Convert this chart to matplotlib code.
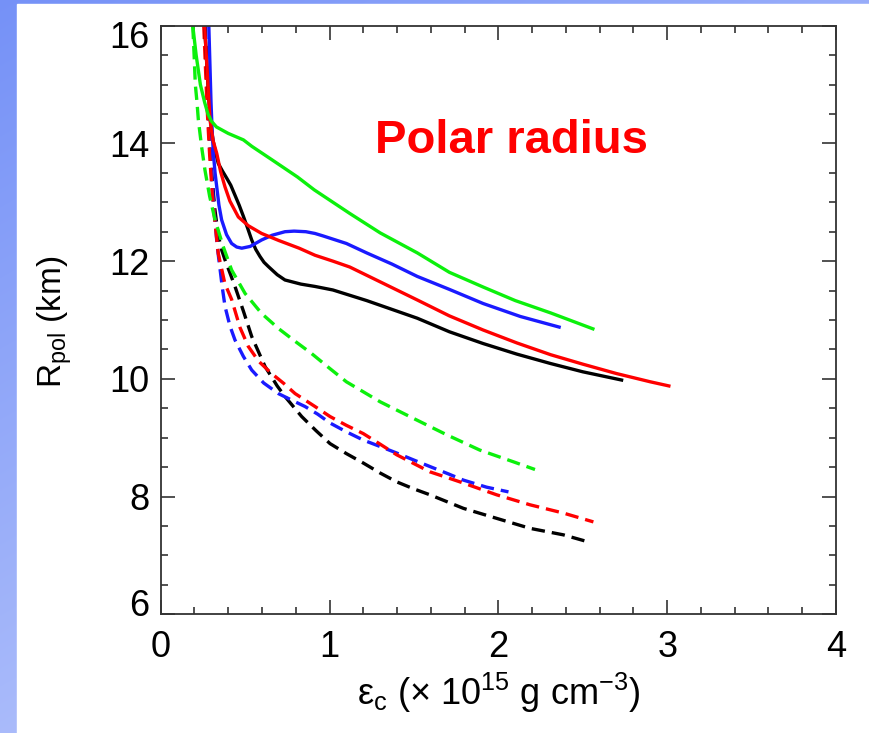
import numpy as np
import matplotlib
matplotlib.use('Agg')
import matplotlib.pyplot as plt
from matplotlib.patches import Rectangle
from matplotlib.ticker import MultipleLocator
from matplotlib.transforms import ScaledTranslation

plt.rcParams['font.family'] = ['Liberation Sans', 'DejaVu Sans']
plt.rcParams['mathtext.fontset'] = 'custom'
plt.rcParams['mathtext.rm'] = 'Liberation Sans'

# central energy density (10^15 g cm^-3) vs polar radius (km)
# solid curves
green_solid_x = [0.19, 0.21, 0.235, 0.26, 0.28, 0.30, 0.33, 0.40, 0.49, 0.54, 0.66, 0.81, 0.91,
                 1.12, 1.30, 1.52, 1.71, 1.91, 2.10, 2.31, 2.56]
green_solid_y = [16.0, 15.5, 15.0, 14.7, 14.5, 14.38, 14.28, 14.17, 14.06, 13.95, 13.72, 13.43, 13.21,
                 12.81, 12.48, 12.14, 11.81, 11.56, 11.33, 11.12, 10.85]

blue_solid_x = [0.285, 0.292, 0.298, 0.305, 0.312, 0.322, 0.332, 0.345, 0.361, 0.39, 0.42, 0.45, 0.48,
                0.53, 0.598, 0.66, 0.736, 0.79, 0.86, 0.914, 0.96, 1.10, 1.22, 1.37, 1.52, 1.71,
                1.91, 2.13, 2.36]
blue_solid_y = [16.0, 15.3, 14.7, 14.2, 13.83, 13.5, 13.26, 12.95, 12.70, 12.45, 12.30, 12.24, 12.22,
                12.25, 12.36, 12.44, 12.50, 12.51, 12.50, 12.47, 12.43, 12.30, 12.14, 11.95, 11.74, 11.52,
                11.28, 11.06, 10.88]

red_solid_x = [0.26, 0.27, 0.28, 0.292, 0.31, 0.332, 0.355, 0.381, 0.41, 0.46, 0.52, 0.598, 0.70, 0.82,
               0.914, 1.02, 1.12, 1.32, 1.52, 1.71, 1.91, 2.11, 2.31, 2.50, 2.70, 2.90, 3.01]
red_solid_y = [16.0, 15.5, 15.0, 14.40, 14.05, 13.83, 13.52, 13.26, 13.02, 12.75, 12.60, 12.47, 12.35, 12.22,
               12.10, 12.00, 11.90, 11.62, 11.34, 11.07, 10.83, 10.61, 10.41, 10.25, 10.09, 9.95, 9.88]

black_solid_x = [0.26, 0.27, 0.28, 0.292, 0.31, 0.325, 0.341, 0.366, 0.391, 0.415, 0.44, 0.465, 0.49,
                 0.515, 0.539, 0.563, 0.588, 0.612, 0.637, 0.69, 0.736, 0.83, 0.914, 1.02, 1.12, 1.22,
                 1.37, 1.52, 1.71, 1.91, 2.11, 2.31, 2.50, 2.73]
black_solid_y = [16.0, 15.5, 15.0, 14.45, 14.05, 13.85, 13.66, 13.53, 13.41, 13.29, 13.12, 12.95, 12.76,
                 12.56, 12.36, 12.20, 12.08, 11.98, 11.91, 11.77, 11.68, 11.61, 11.57, 11.51, 11.42, 11.33,
                 11.18, 11.03, 10.80, 10.60, 10.42, 10.26, 10.12, 9.98]

# dashed curves
green_dash_x = [0.19, 0.198, 0.205, 0.215, 0.223, 0.242, 0.262, 0.29, 0.322, 0.37, 0.42, 0.50, 0.598,
                0.70, 0.80, 0.894, 1.0, 1.10, 1.30, 1.496, 1.694, 1.89, 2.09, 2.217]
green_dash_y = [16.0, 15.5, 15.0, 14.7, 14.40, 13.95, 13.55, 13.1, 12.70, 12.25, 11.85, 11.45, 11.11,
                10.85, 10.63, 10.43, 10.18, 9.95, 9.61, 9.33, 9.05, 8.79, 8.59, 8.46]

blue_dash_x = [0.265, 0.275, 0.285, 0.298, 0.315, 0.335, 0.35, 0.365, 0.381, 0.41, 0.44, 0.49, 0.539,
               0.61, 0.697, 0.775, 0.855, 0.93, 1.003, 1.10, 1.20, 1.30, 1.398, 1.50, 1.595, 1.70,
               1.793, 1.93, 2.06]
blue_dash_y = [16.0, 15.2, 14.4, 13.6, 12.9, 12.25, 11.9, 11.55, 11.23, 10.9, 10.66, 10.38, 10.15,
               9.93, 9.75, 9.64, 9.53, 9.40, 9.25, 9.10, 8.96, 8.85, 8.74, 8.62, 8.51, 8.39,
               8.28, 8.16, 8.08]

red_dash_x = [0.255, 0.265, 0.275, 0.29, 0.305, 0.32, 0.341, 0.38, 0.42, 0.47, 0.519, 0.58, 0.657, 0.73,
              0.796, 0.914, 1.003, 1.10, 1.20, 1.30, 1.398, 1.50, 1.595, 1.70, 1.793, 1.99, 2.188,
              2.385, 2.563]
red_dash_y = [16.0, 15.3, 14.6, 13.8, 13.15, 12.70, 12.13, 11.62, 11.35, 10.87, 10.55, 10.30, 10.09, 9.92,
              9.75, 9.53, 9.36, 9.21, 9.07, 8.89, 8.71, 8.56, 8.42, 8.32, 8.23, 8.03, 7.86,
              7.72, 7.57]

black_dash_x = [0.26, 0.27, 0.28, 0.29, 0.305, 0.32, 0.34, 0.36, 0.381, 0.41, 0.44, 0.49, 0.539, 0.618,
                0.69, 0.736, 0.835, 0.92, 1.003, 1.10, 1.20, 1.30, 1.398, 1.50, 1.595, 1.793, 1.99,
                2.188, 2.385, 2.533]
black_dash_y = [16.0, 15.3, 14.6, 14.0, 13.4, 12.9, 12.45, 12.2, 12.02, 11.80, 11.57, 11.15, 10.72, 10.21,
                9.88, 9.70, 9.36, 9.12, 8.90, 8.73, 8.57, 8.40, 8.25, 8.13, 8.03, 7.80, 7.63,
                7.46, 7.35, 7.23]

x_ticks = [0, 1, 2, 3, 4]
y_ticks = [6, 8, 10, 12, 14, 16]

GREEN = '#0cf00c'
BLUE = '#1a1aff'
RED = '#ff0000'
BLACK = '#000000'

W, H = 870, 733
fig = plt.figure(figsize=(W / 100, H / 100), dpi=100)

# slide background: blue gradient strip on left / top
bg = fig.add_axes([0, 0, 1, 1], zorder=-10)
yy, xx = np.mgrid[0:H, 0:W]
t = 0.6 * yy / H + 0.4 * xx / W
c0 = np.array([0.46, 0.57, 0.97])
c1 = np.array([0.80, 0.84, 0.99])
bg.imshow(c0 + (c1 - c0) * t[..., None], extent=[0, W, H, 0], aspect='auto')
bg.add_patch(Rectangle((17, 4), W - 17, H - 4, color='white'))
bg.set_xlim(0, W)
bg.set_ylim(H, 0)
bg.axis('off')

ax = fig.add_axes([160.7 / W, 1 - 614.3 / H, (836 - 160.7) / W, (614.3 - 25.7) / H])

dash = (4.0, 2.1)
lw = 2.4
ax.plot(black_dash_x, black_dash_y, color=BLACK, lw=lw, dashes=dash)
ax.plot(blue_dash_x, blue_dash_y, color=BLUE, lw=lw, dashes=dash)
ax.plot(red_dash_x, red_dash_y, color=RED, lw=lw, dashes=dash)
ax.plot(green_dash_x, green_dash_y, color=GREEN, lw=lw, dashes=dash)
ax.plot(black_solid_x, black_solid_y, color=BLACK, lw=lw)
ax.plot(blue_solid_x, blue_solid_y, color=BLUE, lw=lw)
ax.plot(red_solid_x, red_solid_y, color=RED, lw=lw)
ax.plot(green_solid_x, green_solid_y, color=GREEN, lw=lw)

ax.text(1.27, 14.04, 'Polar radius', color=RED, fontsize=34, fontweight='bold',
        ha='left', va='center')

ax.set_xlim(0, 4)
ax.set_ylim(6, 16)
ax.set_xticks(x_ticks)
ax.set_yticks(y_ticks)
ax.xaxis.set_minor_locator(MultipleLocator(0.2))
ax.yaxis.set_minor_locator(MultipleLocator(0.5))
ax.tick_params(which='both', direction='in', top=True, right=True, color='#333333', width=1.2)
ax.tick_params(which='major', length=10, labelsize=26)
ax.tick_params(axis='x', which='major', pad=11)
ax.tick_params(axis='y', which='major', pad=8)
ax.tick_params(which='minor', length=5)
for s in ax.spines.values():
    s.set_color('#333333')
    s.set_linewidth(1.3)

ax.set_xlabel(r'ε$_\mathregular{c}$ (× 10$^\mathregular{15}$ g cm$^\mathregular{-3}$)', fontsize=26,
              va='center')
ax.xaxis.set_label_coords(0.5, -(693 - 614.3) / (614.3 - 25.7))
ax.set_ylabel(r'R$_\mathregular{pol}$ (km)', fontsize=24, va='center')
ax.yaxis.set_label_coords(-(160.7 - 55) / (836 - 160.7), 0.497)

# end labels on the y axis sit inside the box
yt = ax.yaxis.get_major_ticks()
yt[0].label1.set_transform(yt[0].label1.get_transform() + ScaledTranslation(0, 0.12, fig.dpi_scale_trans))
yt[-1].label1.set_transform(yt[-1].label1.get_transform() + ScaledTranslation(0, -0.09, fig.dpi_scale_trans))

fig.savefig('out.png', dpi=100)
